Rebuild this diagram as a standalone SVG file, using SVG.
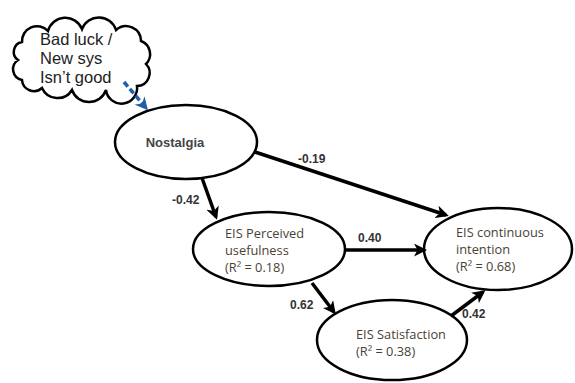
<svg xmlns="http://www.w3.org/2000/svg" width="575" height="383" viewBox="0 0 575 383">
<defs>
<marker id="ah" markerWidth="13" markerHeight="13" refX="10" refY="6.5" orient="auto" markerUnits="userSpaceOnUse" viewBox="0 0 13 13">
<path d="M0,0 L13,6.5 L0,13 L3.5,6.5 Z" fill="#000"/>
</marker>
<marker id="bh" markerWidth="13" markerHeight="13" refX="10" refY="6.5" orient="auto" markerUnits="userSpaceOnUse" viewBox="0 0 13 13">
<path d="M0,0 L13,6.5 L0,13 L4,6.5 Z" fill="#1f5ea8"/>
</marker>
<style>
.node{fill:#fff;stroke:#000;stroke-width:2.5}
.lbl{font-family:"Open Sans","Liberation Sans",sans-serif;font-size:12.8px;fill:#4a3f35}
.coef{font-family:"Liberation Sans",sans-serif;font-size:12px;font-weight:bold;fill:#333}
.edge{stroke:#000;stroke-width:3.5;fill:none;marker-end:url(#ah)}
</style>
</defs>
<rect width="575" height="383" fill="#fff"/>
<g id="cloud">
<path d="M22,42 A15,15 0 0 1 48,31 A18,18 0 0 1 82,29 A18,18 0 0 1 116,30 A15,15 0 0 1 141,41 A14,14 0 0 1 146,64 A13,13 0 0 1 137,86 A15,15 0 0 1 106,90 A18,18 0 0 1 72,90 A17,17 0 0 1 42,88 A12,12 0 0 1 22,80 A11,11 0 0 1 18,60 A10,10 0 0 1 22,42 Z" fill="#fff" stroke="#000" stroke-width="2.5"/>
<text font-family="Liberation Sans,Arial,sans-serif" font-size="16.5" fill="#222"><tspan x="40" y="45">Bad luck /</tspan><tspan x="40" y="64">New sys</tspan><tspan x="40" y="83">Isn’t good</tspan></text>
</g>
<g id="nostalgia">
<ellipse class="node" cx="186" cy="142" rx="71" ry="37"/>
<text x="175" y="147" text-anchor="middle" font-family="Liberation Sans,sans-serif" font-size="13" font-weight="bold" fill="#444">Nostalgia</text>
</g>
<g id="perceived">
<ellipse class="node" cx="269" cy="249" rx="76" ry="37"/>
<text class="lbl"><tspan x="225" y="238">EIS Perceived</tspan><tspan x="225" y="255">usefulness</tspan><tspan x="225" y="272">(R² = 0.18)</tspan></text>
</g>
<g id="continuous">
<ellipse class="node" cx="498" cy="249" rx="74" ry="41"/>
<text class="lbl"><tspan x="456" y="237">EIS continuous</tspan><tspan x="456" y="254">intention</tspan><tspan x="456" y="271">(R² = 0.68)</tspan></text>
</g>
<g id="satisfaction">
<ellipse class="node" cx="392" cy="340" rx="75" ry="40"/>
<text class="lbl"><tspan x="356" y="339">EIS Satisfaction</tspan><tspan x="356" y="356">(R² = 0.38)</tspan></text>
</g>
<g id="connectors">
<line x1="124" y1="82" x2="146" y2="108" stroke="#1f5ea8" stroke-width="3.5" stroke-dasharray="6,3" marker-end="url(#bh)"/>
<line class="edge" x1="202" y1="178" x2="216" y2="217"/>
<line class="edge" x1="255" y1="152" x2="446" y2="215"/>
<line class="edge" x1="345" y1="250" x2="424" y2="250"/>
<line class="edge" x1="312" y1="283" x2="334" y2="312"/>
<line class="edge" x1="451" y1="316" x2="483" y2="292"/>
<text class="coef" x="172" y="204">-0.42</text>
<text class="coef" x="298" y="163">-0.19</text>
<text class="coef" x="358" y="242">0.40</text>
<text class="coef" x="290" y="309">0.62</text>
<text class="coef" x="462" y="318">0.42</text>
</g>
</svg>
